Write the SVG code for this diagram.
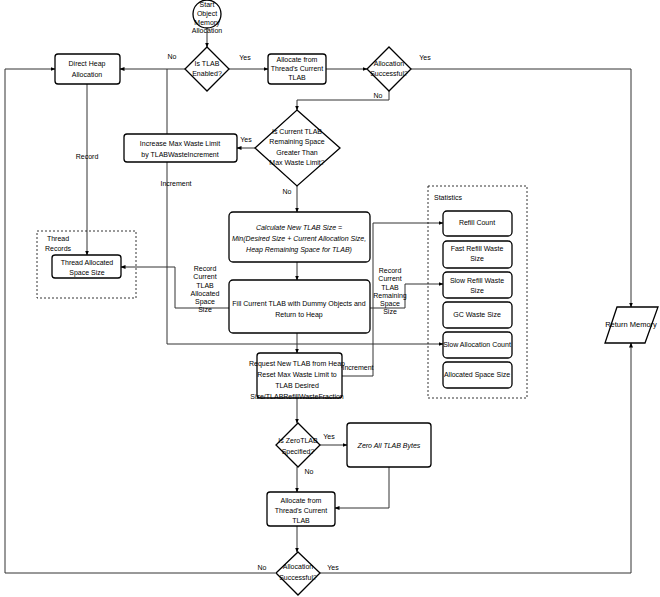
<svg xmlns="http://www.w3.org/2000/svg" width="660" height="597" viewBox="0 0 660 597">
<defs>
<marker id="arr" viewBox="0 0 10 10" refX="9" refY="5" markerWidth="5" markerHeight="5" orient="auto-start-reverse">
<path d="M0,1 L10,5 L0,9 Z" fill="#000"/>
</marker>
<style>
text{font-family:"Liberation Sans",Arial,sans-serif;font-size:7px;fill:#000;text-anchor:middle;dominant-baseline:middle}
.box{fill:#fff;stroke:#000;stroke-width:1.3}
.grp{fill:none;stroke:#000;stroke-width:0.8;stroke-dasharray:2,2}
.c{fill:none;stroke:#333;stroke-width:1}
.ca{fill:none;stroke:#333;stroke-width:1;marker-end:url(#arr)}
.it{font-style:italic}
.l{text-anchor:start}
</style>
</defs>
<rect width="660" height="597" fill="#fff"/>

<g id="connectors">
<path class="ca" d="M207,28 L207,47"/>
<path class="ca" d="M229,69 L268,69"/>
<text x="245" y="58">Yes</text>
<path class="ca" d="M326,69 L367,69"/>
<path class="ca" d="M411,69 L631,69 L631,307"/>
<text x="425" y="58">Yes</text>
<path class="ca" d="M389,91 L389,100 L297,100 L297,110"/>
<text x="378" y="96">No</text>
<path class="ca" d="M185,69 L120,69"/>
<text x="172" y="57">No</text>
<path class="c" d="M167,69 L167,134"/>
<path class="ca" d="M255,148 L237,148"/>
<text x="246" y="140">Yes</text>
<path class="ca" d="M167,162 L167,344 L443,344"/>
<text x="176" y="184">Increment</text>
<path class="ca" d="M297,186 L297,212"/>
<text x="287" y="192">No</text>
<path class="ca" d="M297,262 L297,280"/>
<path class="ca" d="M297,333 L297,353"/>
<path class="ca" d="M297,398 L297,423"/>
<path class="ca" d="M320,445 L347,445"/>
<text x="329" y="437">Yes</text>
<path class="ca" d="M389,467 L389,508 L335,508"/>
<path class="ca" d="M297,467 L297,492"/>
<text x="309" y="472">No</text>
<path class="ca" d="M297,526 L297,552"/>
<path class="ca" d="M275,573 L5,573 L5,69 L55,69"/>
<text x="262" y="568">No</text>
<path class="ca" d="M319,573 L631,573 L631,343"/>
<text x="333" y="568">Yes</text>
<path class="ca" d="M87,84 L87,255"/>
<text x="87" y="157">Record</text>
<path class="ca" d="M229,308 L175,308 L175,267 L121,267"/>
<text x="205" y="269">Record</text>
<text x="205" y="277">Current</text>
<text x="205" y="286">TLAB</text>
<text x="205" y="294">Allocated</text>
<text x="205" y="302">Space</text>
<text x="205" y="310">Size</text>
<path class="ca" d="M370,308 L405,308 L405,284 L443,284"/>
<text x="390" y="271">Record</text>
<text x="390" y="279">Current</text>
<text x="390" y="288">TLAB</text>
<text x="390" y="296">Remaining</text>
<text x="390" y="304">Space</text>
<text x="390" y="312">Size</text>
<path class="ca" d="M342,376 L373,376 L373,223 L443,223"/>
<text x="358" y="368">Increment</text>
</g>

<g id="start">
<circle cx="207" cy="14" r="14" fill="#fff" stroke="#000" stroke-width="1.3"/>
<text x="207" y="5">Start</text>
<text x="207" y="14">Object</text>
<text x="207" y="23">Memory</text>
<text x="207" y="31">Allocation</text>
</g>

<g id="tlab-enabled">
<path class="box" d="M207,47 L229,69 L207,91 L185,69 Z"/>
<text x="207" y="64">Is TLAB</text>
<text x="207" y="74">Enabled?</text>
</g>

<g id="alloc-1">
<rect class="box" x="268" y="54" width="58" height="30" rx="3"/>
<text x="297" y="60">Allocate from</text>
<text x="297" y="69">Thread's Current</text>
<text x="297" y="78">TLAB</text>
</g>

<g id="success-1">
<path class="box" d="M389,47 L411,69 L389,91 L367,69 Z"/>
<text x="389" y="64">Allocation</text>
<text x="389" y="74">Successful?</text>
</g>

<g id="direct-heap">
<rect class="box" x="55" y="54" width="65" height="30" rx="3"/>
<text x="87" y="64">Direct Heap</text>
<text x="87" y="75">Allocation</text>
</g>

<g id="increase">
<rect class="box" x="124" y="134" width="113" height="28" rx="3"/>
<text x="180" y="144">Increase Max Waste Limit</text>
<text x="180" y="155">by TLABWasteIncrement</text>
</g>

<g id="remaining">
<path class="box" d="M297,110 L340,148 L297,186 L255,148 Z"/>
<text x="297" y="132">Is Current TLAB</text>
<text x="297" y="142">Remaining Space</text>
<text x="297" y="153">Greater Than</text>
<text x="297" y="163">Max Waste Limit?</text>
</g>

<g id="calc">
<rect class="box" x="229" y="212" width="141" height="50" rx="4"/>
<text class="it" x="299" y="228">Calculate New TLAB Size =</text>
<text class="it" x="299" y="239">Min(Desired Size + Current Allocation Size,</text>
<text class="it" x="299" y="250">Heap Remaining Space for TLAB)</text>
</g>

<g id="fill">
<rect class="box" x="229" y="280" width="141" height="53" rx="4"/>
<text x="299" y="304">Fill Current TLAB with Dummy Objects and</text>
<text x="299" y="315">Return to Heap</text>
</g>

<g id="request">
<rect class="box" x="257" y="353" width="85" height="45" rx="3"/>
<text x="297" y="364">Request New TLAB from Heap</text>
<text x="297" y="375">Reset Max Waste Limit to</text>
<text x="297" y="386">TLAB Desired</text>
<text x="297" y="397">Size/TLABRefillWasteFraction</text>
</g>

<g id="zero-specified">
<path class="box" d="M298,423 L320,445 L298,467 L276,445 Z"/>
<text x="298" y="441">Is ZeroTLAB</text>
<text x="298" y="452">Specified?</text>
</g>

<g id="zero-bytes">
<rect class="box" x="347" y="423" width="84" height="44" rx="3"/>
<text class="it" x="389" y="446">Zero All TLAB Bytes</text>
</g>

<g id="alloc-2">
<rect class="box" x="267" y="492" width="68" height="34" rx="3"/>
<text x="301" y="501">Allocate from</text>
<text x="301" y="511">Thread's Current</text>
<text x="301" y="521">TLAB</text>
</g>

<g id="success-2">
<path class="box" d="M298,552 L320,573 L298,595 L276,573 Z"/>
<text x="298" y="567">Allocation</text>
<text x="298" y="578">Successful?</text>
</g>

<g id="return-memory">
<path class="box" d="M617,307 L658,307 L645,343 L605,343 Z"/>
<text x="631" y="325" style="font-size:7.5px">Return Memory</text>
</g>

<g id="thread-records">
<rect class="grp" x="37" y="231" width="99" height="67"/>
<text x="58" y="239">Thread</text>
<text x="58" y="249">Records</text>
</g>

<g id="thread-allocated">
<rect class="box" x="52" y="255" width="69" height="23" rx="3"/>
<text x="87" y="263">Thread Allocated</text>
<text x="87" y="273">Space Size</text>
</g>

<g id="statistics">
<rect class="grp" x="428" y="186" width="99" height="212"/>
<text class="l" x="434" y="198">Statistics</text>
</g>

<g id="refill-count">
<rect class="box" x="443" y="211" width="69" height="25" rx="4"/>
<text x="477" y="223">Refill Count</text>
</g>
<g id="fast-refill">
<rect class="box" x="443" y="241" width="69" height="27" rx="4"/>
<text x="477" y="249">Fast Refill Waste</text>
<text x="477" y="259">Size</text>
</g>
<g id="slow-refill">
<rect class="box" x="443" y="272" width="69" height="26" rx="4"/>
<text x="477" y="281">Slow Refill Waste</text>
<text x="477" y="291">Size</text>
</g>
<g id="gc-waste">
<rect class="box" x="443" y="302" width="69" height="26" rx="4"/>
<text x="477" y="315">GC Waste Size</text>
</g>
<g id="slow-alloc">
<rect class="box" x="443" y="332" width="69" height="26" rx="4"/>
<text x="477" y="345">Slow Allocation Count</text>
</g>
<g id="allocated-space">
<rect class="box" x="443" y="362" width="69" height="26" rx="4"/>
<text x="477" y="375">Allocated Space Size</text>
</g>
</svg>
